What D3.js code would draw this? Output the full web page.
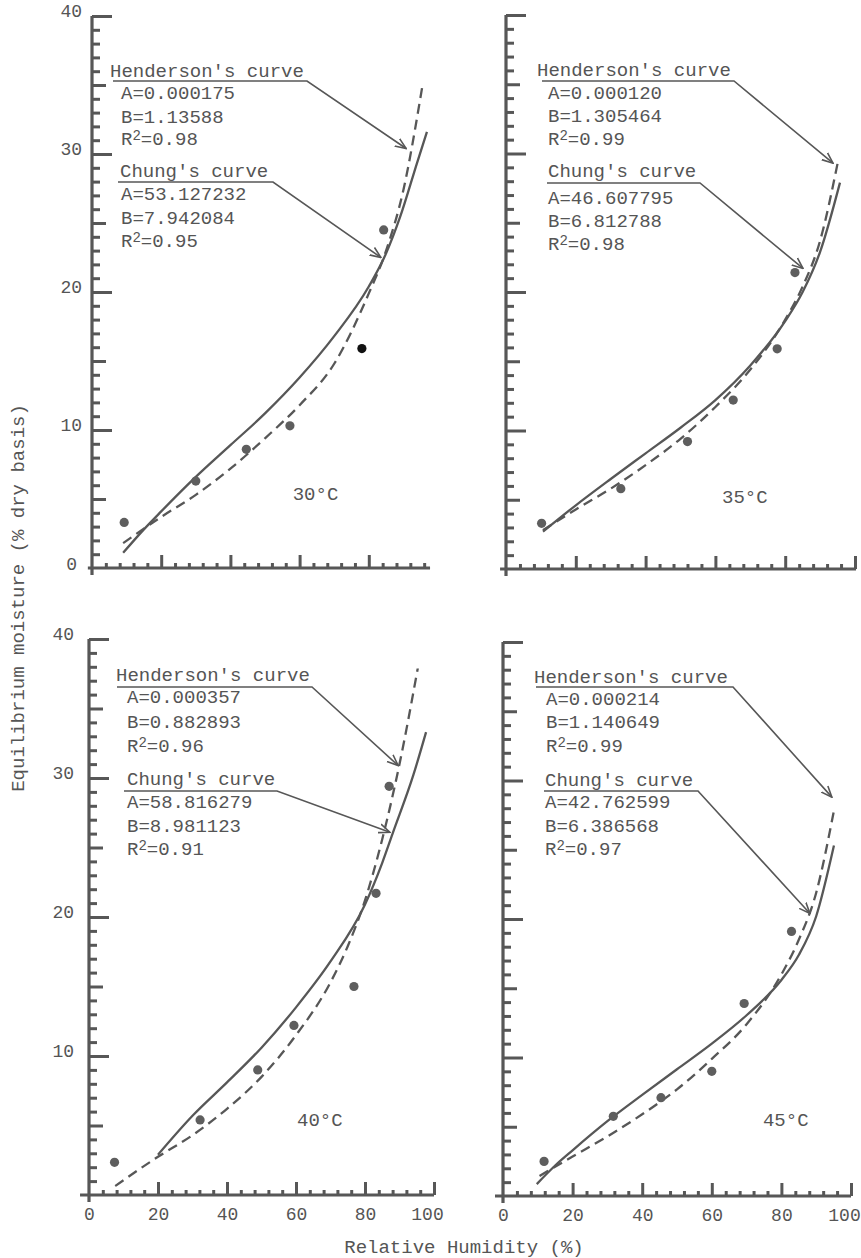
<!DOCTYPE html>
<html><head><meta charset="utf-8">
<script src="https://cdn.jsdelivr.net/npm/d3@7"></script>
<style>
html,body{margin:0;padding:0;background:#fff;}
svg{display:block;}
text{font-family:"Liberation Mono","DejaVu Sans Mono",monospace;fill:#555;}
</style></head><body>
<svg id="chart" width="861" height="1258"></svg>
<script>
// ---------------- DATA ----------------
const temperatures = ["30°C", "35°C", "40°C", "45°C"];
const hendersonA  = ["0.000175", "0.000120", "0.000357", "0.000214"];
const hendersonB  = ["1.13588", "1.305464", "0.882893", "1.140649"];
const hendersonR2 = ["0.98", "0.99", "0.96", "0.99"];
const chungA  = ["53.127232", "46.607795", "58.816279", "42.762599"];
const chungB  = ["7.942084", "6.812788", "8.981123", "6.386568"];
const chungR2 = ["0.95", "0.98", "0.91", "0.97"];

// observed points [RH %, moisture %]
const observed30 = [[9.3,3.3],[30,6.3],[44.6,8.6],[57.2,10.3],[78,15.9],[84.3,24.5]];
const observed35 = [[10.2,3.3],[32.9,5.8],[52,9.2],[65.1,12.2],[77.7,15.9],[82.8,21.4]];
const observed40 = [[7.4,2.35],[32.2,5.4],[48.9,9.0],[59.4,12.2],[76.8,15.0],[83.2,21.7],[87,29.4]];
const observed45 = [[11.8,2.5],[31.7,5.75],[45.4,7.1],[60,9.0],[69.3,13.9],[82.9,19.1]];

// Henderson's curve (dashed)
const henderson30 = [[9,1.8],[20,3.7],[30,5.3],[40,7.2],[50,9.4],[60,11.8],[70,14.8],[80,19.9],[85,23.0],[90,27.4],[95.4,34.8]];
const henderson35 = [[10.6,2.8],[20,4.3],[30,5.8],[40,7.5],[50,9.4],[60,11.7],[70,14.4],[80,18.0],[85,20.4],[90,23.7],[95.1,29.4]];
const henderson40 = [[7.6,0.65],[20,2.75],[30,4.3],[40,6.2],[50,8.5],[60,11.5],[70,15.3],[75,17.9],[80,21.2],[85,25.6],[90,31.0],[95.3,37.9]];
const henderson45 = [[10.5,1.45],[20,2.85],[30,4.3],[40,5.9],[50,7.7],[60,9.9],[70,12.4],[80,16.0],[85,18.5],[90,21.9],[95,27.7]];

// Chung's curve (solid)
const chung30 = [[9,1.1],[15,2.8],[20,4.1],[30,6.6],[40,8.9],[50,11.2],[60,13.8],[70,16.8],[80,20.4],[85,22.8],[89,25.4],[94,29.4],[96.8,31.6]];
const chung35 = [[10.6,2.7],[20,4.6],[30,6.5],[40,8.35],[50,10.2],[60,12.2],[70,14.7],[80,17.9],[85,20.0],[90,22.9],[95.7,27.9]];
const chung40 = [[20,2.9],[30,5.7],[40,8.1],[50,10.6],[60,13.5],[70,16.8],[80,20.9],[85,23.9],[88,26.0],[94,30.2],[97.7,33.3]];
const chung45 = [[9.7,0.86],[15,2.2],[20,3.3],[30,5.4],[40,7.3],[50,9.15],[60,11.0],[70,13.05],[80,15.6],[85,17.4],[90,20.2],[95.1,25.3]];

const xMajorTicks = [0, 20, 40, 60, 80, 100];
const yMajorTicks = [0, 10, 20, 30, 40];
const yHalfTicks = [5, 15, 25, 35];
const xAxisTitle = "Relative Humidity (%)";
const yAxisTitle = "Equilibrium moisture (% dry basis)";

const observedSets = [observed30, observed35, observed40, observed45];
const hendersonSets = [henderson30, henderson35, henderson40, henderson45];
const chungSets = [chung30, chung35, chung40, chung45];

// ---------------- LAYOUT ----------------
const INK = "#575757";
const layout = [
  {px0:92, px100:438, py0:568, py40:16, xMin:-1.2, xMax:97.7, yLabels:true, yLabelGap:10, xLabels:false, darkPoint:4,
   tempPos:[58,4.9],
   hend:{x:18,y:61,ulY:65,ulX0:21,ulX1:215,vx:29,v:[83,107,129],tip:[90.8,30.4]},
   chung:{x:28,y:161,ulY:166,ulX0:26,ulX1:181,vx:29,v:[184,208,231],tip:[83.5,22.5]}},
  {px0:506, px100:855, py0:569, py40:15, xMin:-1.7, xMax:100.3, yLabels:false, xLabels:false, darkPoint:-1,
   tempPos:[61.9,4.8],
   hend:{x:31,y:61,ulY:66,ulX0:36,ulX1:228,vx:42,v:[84,107,130],tip:[93.7,29.3]},
   chung:{x:42,y:162,ulY:168,ulX0:41,ulX1:194,vx:42,v:[189,212,235],tip:[85.1,21.7]}},
  {px0:89, px100:434, py0:1195, py40:639, xMin:-2.6, xMax:100, yLabels:true, yLabelGap:15, xLabels:true, darkPoint:-1,
   tempPos:[60.3,5.0],
   hend:{x:27,y:42,ulY:48,ulX0:28,ulX1:223,vx:38,v:[64,89,113],tip:[89.6,30.9]},
   chung:{x:38,y:146,ulY:152,ulX0:35,ulX1:188,vx:38,v:[169,193,216],tip:[87.2,26.1]}},
  {px0:503, px100:851, py0:1196, py40:642, xMin:-2.3, xMax:100, yLabels:false, xLabels:true, darkPoint:-1,
   tempPos:[74.7,5.05],
   hend:{x:31,y:41,ulY:45,ulX0:33,ulX1:230,vx:43,v:[63,86,110],tip:[94.5,28.8]},
   chung:{x:42,y:144,ulY:149,ulX0:41,ulX1:195,vx:42,v:[166,190,213],tip:[88.2,20.4]}}
];

const svg = d3.select("#chart");
const defs = svg.append("defs");
defs.append("marker").attr("id","arrow").attr("viewBox","0 -6 12 12")
  .attr("refX",11).attr("refY",0).attr("markerWidth",12).attr("markerHeight",12)
  .attr("markerUnits","userSpaceOnUse").attr("orient","auto")
  .append("path").attr("d","M0,-4.5L11,0L0,4.5").attr("fill","none")
  .attr("stroke",INK).attr("stroke-width",1.6);

function styleAxis(g){
  g.select(".domain").remove();
  g.selectAll(".tick line").attr("stroke",INK).attr("stroke-width",3);
  g.selectAll(".tick text").attr("fill","#555").style("font-family","'Liberation Mono',monospace").style("font-size","18px");
}

layout.forEach((L, i) => {
  const x = d3.scaleLinear().domain([0,100]).range([L.px0, L.px100]);
  const y = d3.scaleLinear().domain([0,40]).range([L.py0, L.py40]);
  const g = svg.append("g");

  // y axis: minor, half, major ticks (inward)
  const yMinorVals = d3.range(1,40).filter(v => v % 5 !== 0);
  g.append("g").attr("transform",`translate(${L.px0},0)`)
    .call(d3.axisLeft(y).tickValues(yMinorVals).tickSize(-8).tickFormat("")).call(styleAxis);
  g.append("g").attr("transform",`translate(${L.px0},0)`)
    .call(d3.axisLeft(y).tickValues(yHalfTicks).tickSize(-14).tickFormat("")).call(styleAxis);
  const yMaj = g.append("g").attr("transform",`translate(${L.px0},0)`)
    .call(d3.axisLeft(y).tickValues(yMajorTicks.filter(v=>v>0)).tickSize(-20)
      .tickPadding(L.yLabels ? L.yLabelGap : 0)
      .tickFormat(L.yLabels ? d3.format("d") : ""))
    .call(styleAxis);
  yMaj.selectAll(".tick text").attr("dy","0.05em");
  if (L.yLabels && i === 0) {
    g.append("text").attr("x", L.px0 - 15).attr("y", y(0) + 2).attr("text-anchor","end")
      .style("font-size","18px").text("0");
  }
  g.append("line").attr("x1",L.px0).attr("x2",L.px0).attr("y1",y(-0.5)).attr("y2",y(40))
    .attr("stroke",INK).attr("stroke-width",3.2);

  // x axis ticks
  const xMinorVals = d3.range(4,L.xMax,4).filter(v => v % 20 !== 0);
  g.append("g").attr("transform",`translate(0,${L.py0})`)
    .call(d3.axisBottom(x).tickValues(xMinorVals).tickSize(-5).tickFormat("")).call(styleAxis);
  const xMaj = g.append("g").attr("transform",`translate(0,${L.py0})`)
    .call(d3.axisBottom(x).tickValues(xMajorTicks.filter(v => v <= L.xMax))
      .tickSize(-13).tickPadding(12).tickFormat(L.xLabels ? d3.format("d") : ""))
    .call(styleAxis);
  xMaj.selectAll(".tick line").filter(d => d === 0).remove();
  xMaj.selectAll(".tick text").filter(d => d === 100).attr("dx", -7);
  g.append("line").attr("x1",x(L.xMin)).attr("x2",x(L.xMax)).attr("y1",L.py0).attr("y2",L.py0)
    .attr("stroke",INK).attr("stroke-width",3.2);

  // curves
  const line = d3.line().x(d => x(d[0])).y(d => y(d[1])).curve(d3.curveMonotoneX);
  g.append("path").datum(chungSets[i]).attr("d",line).attr("fill","none")
    .attr("stroke",INK).attr("stroke-width",2.3);
  g.append("path").datum(hendersonSets[i]).attr("d",line).attr("fill","none")
    .attr("stroke",INK).attr("stroke-width",2.3).attr("stroke-dasharray","10,6");

  // observed points
  g.selectAll("circle.obs").data(observedSets[i]).join("circle").attr("class","obs")
    .attr("cx", d => x(d[0])).attr("cy", d => y(d[1])).attr("r", 4.6)
    .attr("fill", (d, j) => j === L.darkPoint ? "#111" : "#5e5e5e");

  // temperature label
  g.append("text").attr("x", x(L.tempPos[0])).attr("y", y(L.tempPos[1]))
    .style("font-size","19px").text(temperatures[i]);

  // annotation blocks
  const blocks = [
    {cfg:L.hend, title:"Henderson's curve", a:hendersonA[i], b:hendersonB[i], r2:hendersonR2[i]},
    {cfg:L.chung, title:"Chung's curve", a:chungA[i], b:chungB[i], r2:chungR2[i]}
  ];
  blocks.forEach(bk => {
    const c = bk.cfg, ox = L.px0, oy = L.py40;
    g.append("text").attr("x", ox + c.x).attr("y", oy + c.y).style("font-size","19px").text(bk.title);
    g.append("path")
      .attr("d", `M${ox + c.ulX0},${oy + c.ulY}H${ox + c.ulX1}L${x(c.tip[0])},${y(c.tip[1])}`)
      .attr("fill","none").attr("stroke",INK).attr("stroke-width",1.6)
      .attr("marker-end","url(#arrow)");
    g.append("text").attr("x", ox + c.vx).attr("y", oy + c.v[0]).style("font-size","19px").text("A=" + bk.a);
    g.append("text").attr("x", ox + c.vx).attr("y", oy + c.v[1]).style("font-size","19px").text("B=" + bk.b);
    const t = g.append("text").attr("x", ox + c.vx).attr("y", oy + c.v[2]).style("font-size","19px");
    t.append("tspan").text("R");
    t.append("tspan").attr("dy",-5).style("font-size","14px").text("2");
    t.append("tspan").attr("dy",5).text("=" + bk.r2);
  });
});

// axis titles
svg.append("text").attr("transform","translate(24,598) rotate(-90)")
  .attr("text-anchor","middle").style("font-size","19px").text(yAxisTitle);
svg.append("text").attr("x",464).attr("y",1253).attr("text-anchor","middle")
  .style("font-size","19px").text(xAxisTitle);
</script>
</body></html>
